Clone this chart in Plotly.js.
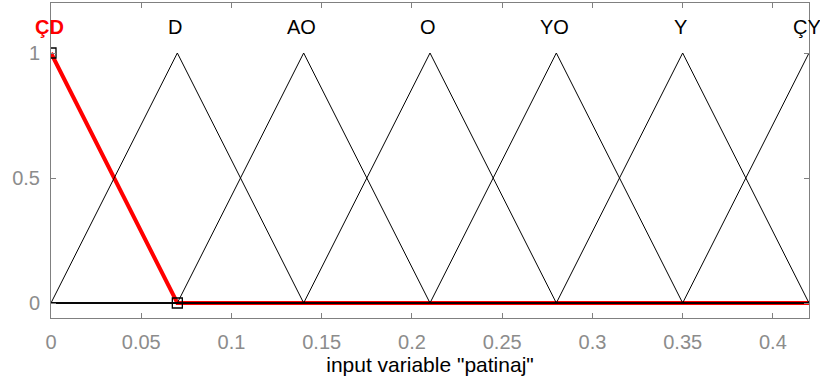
<!DOCTYPE html>
<html><head><meta charset="utf-8">
<script src="https://cdn.plot.ly/plotly-3.0.1.min.js"></script>
<style>html,body{margin:0;padding:0;background:#fff;}#chart{width:820px;height:383px;}</style>
</head><body><div id="chart"></div>
<script>
const mfNames = ["ÇD","D","AO","O","YO","Y","ÇY"];
const mfA = [-0.07, 0.00, 0.07, 0.14, 0.21, 0.28, 0.35];
const mfB = [ 0.00, 0.07, 0.14, 0.21, 0.28, 0.35, 0.42];
const mfC = [ 0.07, 0.14, 0.21, 0.28, 0.35, 0.42, 0.49];
const xMin = 0, xMax = 0.42;
const selected = 0;
const xTicks = [0,0.05,0.1,0.15,0.2,0.25,0.3,0.35,0.4];
const xTickText = ["0","0.05","0.1","0.15","0.2","0.25","0.3","0.35","0.4"];
const yTicks = [0,0.5,1];
const yTickText = ["0","0.5","1"];

function tri(x,a,b,c){
  if (x<=a || x>=c) return 0;
  return x<=b ? (x-a)/(b-a) : (c-x)/(c-b);
}
function mfPoints(i){
  const xs=[xMin,mfA[i],mfB[i],mfC[i],xMax].filter(v=>v>=xMin&&v<=xMax);
  const ux=[...new Set(xs)].sort((p,q)=>p-q);
  return {x:ux, y:ux.map(v=>tri(v,mfA[i],mfB[i],mfC[i]))};
}
const traces=[];
const sp=mfPoints(selected);
traces.push({x:sp.x,y:sp.y,mode:'lines',line:{color:'#ff0000',width:4},hoverinfo:'skip'});
mfNames.forEach((n,i)=>{
  if(i===selected) return;
  const p=mfPoints(i);
  traces.push({x:p.x,y:p.y,mode:'lines',line:{color:'#000',width:1},hoverinfo:'skip'});
});
traces.push({x:[mfB[selected],mfC[selected]],y:[1,0],mode:'markers',
  marker:{symbol:'square-open',size:10,color:'#000',line:{width:1.3,color:'#000'}},hoverinfo:'skip'});

const FONT='Liberation Sans, Arial, sans-serif';
const annotations = mfNames.map((n,i)=>({
  x:mfB[i], y:1.106, xref:'x', yref:'y', text:i===selected?'<b>'+n+'</b>':n, showarrow:false,
  xanchor:'center', yanchor:'middle', xshift:-2,
  font:{family:FONT, size:20, color:i===selected?'#ff0000':'#000'}
}));

const layout={
  width:820,height:383,
  margin:{l:51,r:11,t:3,b:65},
  paper_bgcolor:'#fff',plot_bgcolor:'#fff',
  showlegend:false,
  font:{family:FONT,size:20,color:'#8c8c8c'},
  xaxis:{range:[xMin,xMax],tickvals:xTicks,ticktext:xTickText,ticks:'inside',ticklen:5,
    tickcolor:'#808080',showgrid:false,zeroline:false,showline:true,linecolor:'#808080',linewidth:1,
    mirror:'ticks',tickfont:{family:FONT,size:20,color:'#8c8c8c'},ticklabelstandoff:6,
    title:{text:'input variable "patinaj"',font:{family:FONT,size:21,color:'#000'},standoff:4}},
  yaxis:{range:[-0.06,1.2],tickvals:yTicks,ticktext:yTickText,ticks:'inside',ticklen:5,
    tickcolor:'#808080',showgrid:false,zeroline:false,showline:true,linecolor:'#808080',linewidth:1,
    mirror:'ticks',tickfont:{family:FONT,size:20,color:'#8c8c8c'},ticklabelstandoff:6},
  annotations:annotations
};
Plotly.newPlot('chart',traces,layout,{staticPlot:true,displayModeBar:false});
</script></body></html>
